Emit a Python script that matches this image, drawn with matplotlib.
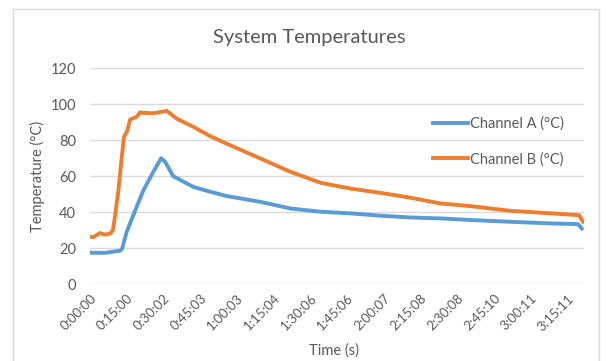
import matplotlib
matplotlib.use("Agg")
import matplotlib.pyplot as plt
from matplotlib.lines import Line2D

# ---- data (time in minutes, temperature in °C) ----
time_a = [0, 6, 12.3, 13.1, 15.0, 19.1, 21.8, 25.9, 29.1, 30.7, 34.0, 42.3, 49.2,
          56.0, 69.7, 82.0, 94.3, 106.5, 118.8, 131.1, 143.4, 155.7, 172.1,
          188.5, 199.6, 201.6]
chan_a = [17.4, 17.3, 18.5, 19.5, 29, 43, 52, 62.4, 70, 68, 60, 54, 51.3,
          48.9, 45.7, 42, 40.2, 39.3, 38, 37, 36.5, 35.6, 34.6,
          33.7, 33.3, 30]

time_b = [0, 1.2, 4.1, 6.1, 8.2, 9.4, 10.2, 11.6, 13.0, 13.9, 15.2, 16.4, 19.1,
          20.5, 21.8, 25.9, 31.4, 35.5, 42.3, 49.2, 56.0, 69.7, 82.0, 94.3,
          106.5, 118.8, 131.1, 143.4, 155.7, 172.1, 188.5, 200.0, 202.0]
chan_b = [26.3, 26, 28.3, 27.5, 28, 30, 37.4, 52, 70.7, 81.9, 85, 91.5, 93,
          95.5, 95.2, 95, 96.3, 92, 87.4, 82.2, 78, 69.8, 62.4, 56.3,
          53.1, 50.7, 48, 44.8, 43.3, 40.7, 39.3, 38.3, 33.7]

tick_labels = ["0:00:00", "0:15:00", "0:30:02", "0:45:03", "1:00:03", "1:15:04",
               "1:30:06", "1:45:06", "2:00:07", "2:15:08", "2:30:08", "2:45:10",
               "3:00:11", "3:15:11"]
y_ticks = [0, 20, 40, 60, 80, 100, 120]

def to_min(s):
    h, m, sec = (int(v) for v in s.split(":"))
    return h * 60 + m + sec / 60.0

W, H = 606, 361
fig = plt.figure(figsize=(W / 100, H / 100), dpi=100)
plt.rcParams['font.family'] = ['Lato', 'DejaVu Sans']

grey = "#595959"
blue = "#5B9BD5"
orange = "#ED7D31"

ax = fig.add_axes([90 / W, (H - 284) / H, (584 - 90) / W, (284 - 68.3) / H])
ax.plot(time_a, chan_a, color=blue, lw=2.8, solid_capstyle="butt", zorder=3)
ax.plot(time_b, chan_b, color=orange, lw=2.8, solid_capstyle="butt", zorder=3)

ax.set_xlim(0, 202)
ax.set_ylim(0, 120)
ax.set_yticks(y_ticks)
ax.set_yticklabels([str(v) for v in y_ticks], color=grey, fontsize=10.5)
ax.set_xticks([to_min(s) for s in tick_labels])
ax.set_xticklabels(tick_labels, rotation=45, ha="right", rotation_mode="anchor",
                   color=grey, fontsize=9.5)
ax.tick_params(axis="both", length=0)
ax.tick_params(axis="y", pad=10)
ax.tick_params(axis="x", pad=6)
ax.grid(axis="y", color="#d9d9d9", lw=1)
ax.set_axisbelow(True)
for sp in ax.spines.values():
    sp.set_visible(False)

fig.text(309 / W, 1 - 37 / H, "System Temperatures", ha="center", va="center",
         fontsize=14.5, color=grey)
fig.text(37 / W, 1 - 176 / H, "Temperature (°C)", rotation=90, ha="center",
         va="center", fontsize=10.5, color=grey)
fig.text(334 / W, 1 - 351 / H, "Time (s)", ha="center", va="center",
         fontsize=10.5, color=grey)

handles = [Line2D([], [], color=blue, lw=2.8), Line2D([], [], color=orange, lw=2.8)]
leg = fig.legend(handles, ["Channel A (°C)", "Channel B (°C)"],
                 loc="center left", bbox_to_anchor=(420 / W, 1 - 141.5 / H),
                 frameon=False, fontsize=10.5, handlelength=2.4, handletextpad=0.15,
                 labelspacing=1.45, labelcolor=grey)

# outer chart frame
frame = plt.Rectangle((12.5 / W, -0.05), (599 - 12.5) / W, (H - 8.5) / H + 0.05,
                      transform=fig.transFigure, fill=False, ec="#d9d9d9", lw=1)
fig.add_artist(frame)

fig.savefig("out.png", dpi=100)
